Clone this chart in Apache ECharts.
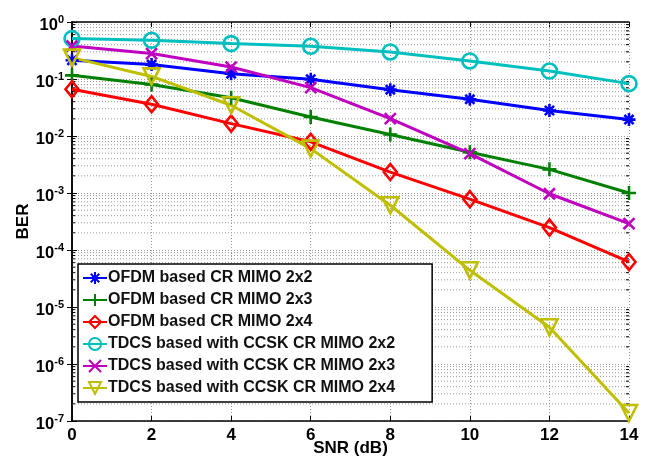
<!DOCTYPE html>
<html>
<head>
<meta charset="utf-8">
<script src="https://cdn.jsdelivr.net/npm/echarts@6/dist/echarts.min.js"></script>
<style>
html, body { margin: 0; padding: 0; background: #fff; }
#container { width: 657px; height: 461px; }
</style>
</head>
<body>
<div id="container"></div>
<script>
// SNR values (dB)
var snr = [0, 2, 4, 6, 8, 10, 12, 14];

// BER curves
var ofdm2x2 = [0.213, 0.179, 0.124, 0.099, 0.065, 0.044, 0.028, 0.0194];
var ofdm2x3 = [0.116, 0.080, 0.047, 0.0216, 0.0106, 0.0052, 0.0026, 0.001];
var ofdm2x4 = [0.066, 0.036, 0.0165, 0.0079, 0.00233, 0.00078, 0.000247, 0.0000616];
var tdcs2x2 = [0.511, 0.477, 0.418, 0.375, 0.298, 0.207, 0.138, 0.083];
var tdcs2x3 = [0.379, 0.279, 0.162, 0.0706, 0.0202, 0.0049, 0.00097, 0.00029];
var tdcs2x4 = [0.237, 0.111, 0.0346, 0.006, 0.00061, 0.000044, 0.0000044, 0.000000138];

var names = [
	'OFDM based CR MIMO 2x2',
	'OFDM based CR MIMO 2x3',
	'OFDM based CR MIMO 2x4',
	'TDCS based with CCSK CR MIMO 2x2',
	'TDCS based with CCSK CR MIMO 2x3',
	'TDCS based with CCSK CR MIMO 2x4'
];
var colors = ['#0000ff', '#008000', '#ff0000', '#00bfbf', '#bf00bf', '#bfbf00'];

// minor grid positions 2..9 x 10^k
var minorVals = [];
for (var k = -7; k < 0; k++) {
	for (var m = 2; m <= 9; m++) {
		minorVals.push([m * Math.pow(10, k)]);
	}
}

var sym_ast = 'path://M0,-10L0,10M-10,0L10,0M-7.07,-7.07L7.07,7.07M-7.07,7.07L7.07,-7.07';
var sym_plus = 'path://M0,-10L0,10M-10,0L10,0';
var sym_x = 'path://M-10,-10L10,10M-10,10L10,-10';

function pairs(ys)
{
	var out = [];
	for (var i = 0; i < snr.length; i++) {
		out.push([snr[i], ys[i]]);
	}
	return out;
}

function make_line(idx, ys, symbol, size, rotate)
{
	return {
		name: names[idx],
		type: 'line',
		data: pairs(ys),
		symbol: symbol,
		symbolSize: size,
		symbolRotate: rotate || 0,
		showAllSymbol: true,
		z: 5,
		lineStyle: { color: colors[idx], width: 3 },
		itemStyle: { color: 'rgba(255,255,255,0)', borderColor: colors[idx], borderWidth: 2.6 },
		emphasis: { disabled: true },
		animation: false
	};
}

var dom = document.getElementById('container');
var myChart = echarts.init(dom);
var option = {
	backgroundColor: '#fff',
	animation: false,
	textStyle: { fontFamily: 'Liberation Sans', fontWeight: 'bold', color: '#000' },
	grid: { left: 72, right: 28, top: 22, bottom: 40, containLabel: false, outerBoundsMode: 'none' },
	legend: {
		orient: 'vertical',
		left: 78,
		top: 264,
		data: names,
		itemWidth: 24,
		itemHeight: 15,
		itemGap: 6,
		padding: [6, 37, 6, 4],
		backgroundColor: '#fff',
		borderColor: '#000',
		borderWidth: 1.5,
		borderRadius: 0,
		textStyle: { fontFamily: 'Liberation Sans', fontWeight: 'bold', fontSize: 16, color: '#111', padding: [0, 0, 0, -4] }
	},
	xAxis: [
		{
			type: 'value',
			min: 0, max: 14, interval: 2,
			name: 'SNR (dB)',
			nameLocation: 'middle',
			nameGap: 19,
			nameMoveOverlap: false,
			nameTextStyle: { fontSize: 17, fontWeight: 'bold', color: '#000' },
			axisLine: { lineStyle: { color: '#000', width: 1.5 } },
			axisTick: { inside: true, length: 5, lineStyle: { color: '#000' } },
			axisLabel: { fontSize: 17, fontWeight: 'bold', color: '#000', margin: 6 },
			splitLine: { show: true, lineStyle: { color: '#999', type: [1, 2], width: 1 } }
		},
		{
			type: 'value',
			position: 'top',
			min: 0, max: 14, interval: 2,
			axisLine: { show: true, lineStyle: { color: '#000', width: 1.5 } },
			axisTick: { inside: true, length: 5, lineStyle: { color: '#000' } },
			axisLabel: { show: false },
			splitLine: { show: false }
		}
	],
	yAxis: [
		{
			type: 'log',
			logBase: 10,
			min: 1e-7, max: 1,
			interval: 1,
			name: 'BER',
			nameLocation: 'middle',
			nameGap: 40,
			nameMoveOverlap: false,
			nameTextStyle: { fontSize: 17, fontWeight: 'bold', color: '#000' },
			axisLine: { show: true, lineStyle: { color: '#000', width: 1.5 } },
			axisTick: { inside: true, length: 5, lineStyle: { color: '#000' } },
			axisLabel: {
				margin: 8,
				padding: [6, 0, 0, 0],
				formatter: function (v) {
					var e = Math.round(Math.log(v) / Math.LN10);
					return '{b|10}{e|' + e + '}';
				},
				rich: {
					b: { fontSize: 16.5, fontWeight: 'bold', color: '#000', fontFamily: 'Liberation Sans' },
					e: { fontSize: 11, fontWeight: 'bold', color: '#000', fontFamily: 'Liberation Sans', padding: [0, 0, 11, 0] }
				}
			},
			splitLine: { show: true, lineStyle: { color: '#999', type: [1, 2], width: 1 } }
		},
		{
			type: 'log',
			logBase: 10,
			position: 'right',
			min: 1e-7, max: 1,
			interval: 1,
			axisLine: { show: true, lineStyle: { color: '#000', width: 1.5 } },
			axisTick: { inside: true, length: 5, lineStyle: { color: '#000' } },
			axisLabel: { show: false },
			splitLine: { show: false }
		}
	],
	series: [
		{
			// minor log grid + minor ticks
			type: 'custom',
			data: minorVals,
			silent: true,
			z: 1,
			encode: { y: 0 },
			renderItem: function (params, api) {
				var v = api.value(0);
				var p0 = api.coord([0, v]);
				var p1 = api.coord([14, v]);
				return {
					type: 'group',
					children: [
						{
							type: 'line',
							shape: { x1: p0[0], y1: p0[1], x2: p1[0], y2: p1[1] },
							style: { stroke: '#999', lineWidth: 1, lineDash: [1, 2] }
						},
						{
							type: 'line',
							shape: { x1: p0[0], y1: p0[1], x2: p0[0] + 3, y2: p0[1] },
							style: { stroke: '#000', lineWidth: 1 }
						},
						{
							type: 'line',
							shape: { x1: p1[0] - 3, y1: p1[1], x2: p1[0], y2: p1[1] },
							style: { stroke: '#000', lineWidth: 1 }
						}
					]
				};
			}
		},
		make_line(0, ofdm2x2, sym_ast, 13),
		make_line(1, ofdm2x3, sym_plus, 14),
		make_line(2, ofdm2x4, 'diamond', [13, 16]),
		make_line(3, tdcs2x2, 'circle', 15),
		make_line(4, tdcs2x3, sym_x, 11),
		make_line(5, tdcs2x4, 'triangle', 16, 180)
	]
};
myChart.setOption(option, true);
</script>
</body>
</html>
